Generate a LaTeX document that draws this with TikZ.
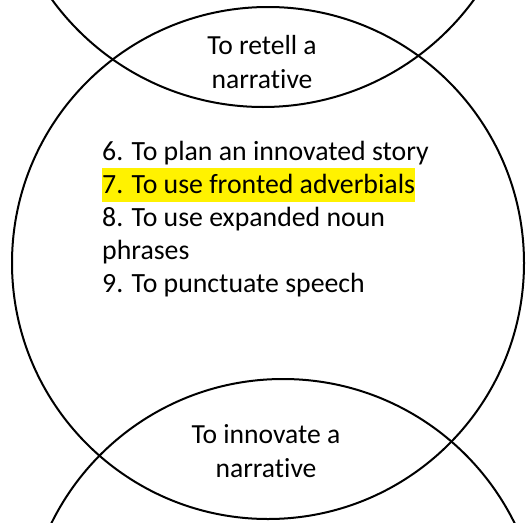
\documentclass[tikz,border=0pt]{standalone}
\usepackage{fontspec}
\setmainfont{Carlito}[Ligatures=NoCommon]

\newcommand{\hlline}[1]{{\setlength{\fboxsep}{0pt}\colorbox{yellow}{\rule[-8pt]{0pt}{34pt}#1}}}

\tikzset{
  ring/.style={line width=2pt},
  lens/.style={align=center, inner sep=0pt, font=\fontsize{27.6}{34}\selectfont},
  steps/.style={align=left, inner sep=0pt, font=\fontsize{27.8}{33}\selectfont}
}

\begin{document}
\begin{tikzpicture}[x=1pt,y=-1pt]
        \useasboundingbox (0,0) rectangle (527,522);
        \clip (0,0) rectangle (527,522);

        \draw[ring] (263,-154) circle[radius=261];
        \draw[ring] (268,263) circle[radius=256];
        \draw[ring] (283,637) circle[radius=258];

        \node[lens] (retell) at (262,62) {To retell a\\narrative};
        \node[lens] (innovate) at (266,451) {To innovate a\\narrative};

        \node[steps, anchor=north west] (lessons) at (102,141)
            {6. To plan an innovated story\\
             \hlline{7. To use fronted adverbials}\\
             8. To use expanded noun\\
             phrases\\
             9. To punctuate speech};
    \end{tikzpicture}
\end{document}
